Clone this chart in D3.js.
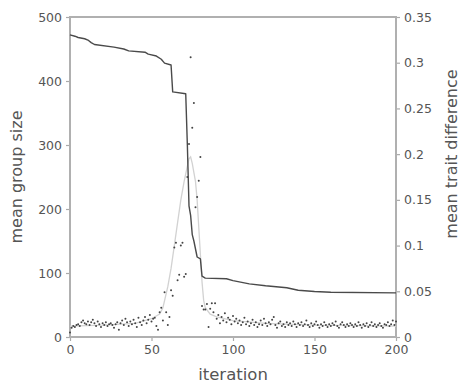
<!DOCTYPE html>
<html>
<head>
<meta charset="utf-8">
<script src="https://cdn.jsdelivr.net/npm/d3@7"></script>
<style>
  body { margin: 0; background: #fff; }
  svg { display: block; }
  text { font-family: "DejaVu Sans", sans-serif; fill: #555; }
</style>
</head>
<body>
<div id="chart"></div>
<script>
// mean group size (left axis), step-like breakpoints
const sizeIter = [0, 3, 5, 9, 11, 13, 15, 27, 33, 36, 46, 48, 53, 56, 58, 62, 63, 71, 72, 73, 74, 75, 76, 78, 80, 81, 83, 96, 100, 110, 120, 133, 140, 150, 160, 200];
const sizeVal  = [472, 470, 468, 466, 464, 460, 457, 453, 450, 447, 445, 442, 439, 434, 428, 425, 383, 380, 300, 205, 190, 160, 150, 125, 122, 95, 92, 91, 88, 83, 80, 77, 73, 71, 70, 69];

// mean trait difference (right axis), one dot per iteration 0..200
const traitDots = [
  0.005, 0.010, 0.012, 0.011, 0.013, 0.014, 0.012, 0.016, 0.018, 0.015,
  0.014, 0.017, 0.013, 0.016, 0.019, 0.015, 0.012, 0.017, 0.014, 0.011,
  0.015, 0.013, 0.016, 0.012, 0.014, 0.015, 0.013, 0.010, 0.014, 0.016,
  0.008, 0.015, 0.018, 0.013, 0.020, 0.016, 0.012, 0.017, 0.014, 0.019,
  0.015, 0.011, 0.021, 0.016, 0.013, 0.018, 0.022, 0.015, 0.019, 0.024,
  0.017, 0.020, 0.021, 0.012, 0.008, 0.027, 0.032, 0.018, 0.049, 0.027,
  0.013, 0.022, 0.051, 0.045, 0.098, 0.103, 0.062, 0.068, 0.100, 0.103,
  0.066, 0.069, 0.175, 0.211, 0.306, 0.229, 0.256, 0.142, 0.153, 0.171,
  0.197, 0.034, 0.030, 0.030, 0.036, 0.011, 0.031, 0.037, 0.027, 0.037,
  0.020, 0.024, 0.015, 0.022, 0.018, 0.026, 0.016, 0.021, 0.019, 0.014,
  0.023, 0.017, 0.020, 0.015, 0.018, 0.013, 0.016, 0.021, 0.014, 0.017,
  0.012, 0.015, 0.019, 0.013, 0.016, 0.011, 0.014, 0.018, 0.013, 0.020,
  0.015, 0.012, 0.016, 0.014, 0.019, 0.022, 0.013, 0.010, 0.015, 0.017,
  0.012, 0.014, 0.011, 0.016, 0.013, 0.015, 0.012, 0.017, 0.014, 0.011,
  0.015, 0.013, 0.016, 0.012, 0.014, 0.018, 0.013, 0.011, 0.015, 0.012,
  0.014, 0.017, 0.013, 0.010, 0.014, 0.012, 0.016, 0.013, 0.011, 0.014,
  0.012, 0.015, 0.013, 0.017, 0.012, 0.010, 0.014, 0.016, 0.013, 0.011,
  0.014, 0.012, 0.015, 0.013, 0.011, 0.014, 0.012, 0.016, 0.013, 0.010,
  0.014, 0.012, 0.015, 0.011, 0.013, 0.016, 0.012, 0.014, 0.011, 0.013,
  0.015, 0.012, 0.010, 0.014, 0.013, 0.016, 0.012, 0.014, 0.018, 0.013,
  0.017
];

// smoothed trait difference (light grey line)
const trendIter = [0, 20, 40, 50, 55, 57, 60, 62, 64, 66, 68, 70, 72, 73, 74, 75, 77, 78, 79, 80, 81, 82, 83, 86, 90, 100, 120, 150, 200];
const trendVal  = [0.012, 0.013, 0.015, 0.02, 0.025, 0.032, 0.055, 0.075, 0.1, 0.125, 0.15, 0.17, 0.187, 0.195, 0.197, 0.19, 0.17, 0.15, 0.12, 0.09, 0.06, 0.04, 0.032, 0.025, 0.022, 0.018, 0.015, 0.013, 0.012];

const xTicks = [0, 50, 100, 150, 200];
const leftTicks = [0, 100, 200, 300, 400, 500];
const rightTicks = [0, 0.05, 0.1, 0.15, 0.2, 0.25, 0.3, 0.35];

const W = 461, H = 383;
const plotL = 70, plotR = 396, plotT = 17, plotB = 337;

const svg = d3.select('#chart').append('svg')
    .attr('width', W)
    .attr('height', H);

const x = d3.scaleLinear().domain([0, 200]).range([plotL, plotR]);
const yL = d3.scaleLinear().domain([0, 500]).range([plotB, plotT]);
const yR = d3.scaleLinear().domain([0, 0.35]).range([plotB, plotT]);

const styleAxis = g => {
    g.select('.domain').remove();
    g.selectAll('.tick line').attr('stroke', '#aaa').attr('stroke-width', 1.2);
    g.selectAll('.tick text').attr('fill', '#555')
        .style('font-family', '"DejaVu Sans", sans-serif')
        .style('font-size', '12.5px');
};

svg.append('g')
    .attr('transform', `translate(${plotL},0)`)
    .call(d3.axisLeft(yL).tickValues(leftTicks).tickSize(4).tickPadding(4))
    .call(styleAxis);

svg.append('g')
    .attr('transform', `translate(${plotR},0)`)
    .call(d3.axisRight(yR).tickValues(rightTicks).tickSize(4).tickPadding(4)
        .tickFormat(d => String(+d.toFixed(2))))
    .call(styleAxis);

svg.append('g')
    .attr('transform', `translate(0,${plotB})`)
    .call(d3.axisBottom(x).tickValues(xTicks).tickSize(4).tickPadding(4))
    .call(styleAxis);

// frame
svg.append('rect')
    .attr('x', plotL).attr('y', plotT)
    .attr('width', plotR - plotL).attr('height', plotB - plotT)
    .attr('fill', 'none')
    .attr('stroke', '#b0b0b0')
    .attr('stroke-width', 2);

// grey trend line
svg.append('path')
    .datum(trendIter.map((d, i) => [d, trendVal[i]]))
    .attr('fill', 'none')
    .attr('stroke', '#d2d2d2')
    .attr('stroke-width', 1.3)
    .attr('d', d3.line().x(d => x(d[0])).y(d => yR(d[1])));

// trait dots
svg.append('g').selectAll('circle')
    .data(traitDots)
    .enter().append('circle')
    .attr('cx', (d, i) => x(i))
    .attr('cy', d => yR(d))
    .attr('r', 1)
    .attr('fill', '#444');

// group size line
svg.append('path')
    .datum(sizeIter.map((d, i) => [d, sizeVal[i]]))
    .attr('fill', 'none')
    .attr('stroke', '#4a4a4a')
    .attr('stroke-width', 1.4)
    .attr('stroke-linejoin', 'round')
    .attr('d', d3.line().x(d => x(d[0])).y(d => yL(d[1])));

// axis labels
svg.append('text')
    .attr('transform', `translate(22,${(plotT + plotB) / 2}) rotate(-90)`)
    .attr('text-anchor', 'middle')
    .style('font-size', '16px')
    .text('mean group size');

svg.append('text')
    .attr('transform', `translate(457,154) rotate(-90)`)
    .attr('text-anchor', 'middle')
    .style('font-size', '16px')
    .text('mean trait difference');

svg.append('text')
    .attr('x', (plotL + plotR) / 2)
    .attr('y', 380)
    .attr('text-anchor', 'middle')
    .style('font-size', '16.5px')
    .text('iteration');
</script>
</body>
</html>
